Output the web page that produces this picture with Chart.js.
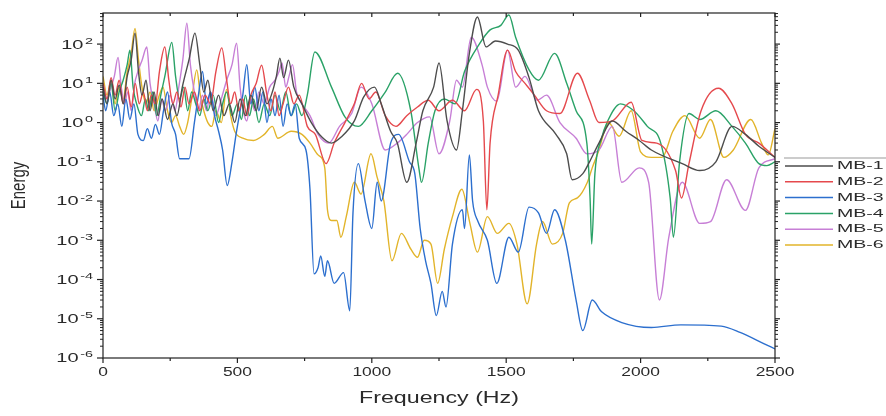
<!DOCTYPE html>
<html>
<head>
<meta charset="utf-8">
<script src="https://cdn.jsdelivr.net/npm/chart.js@4.4.1/dist/chart.umd.min.js"></script>
<style>
html, body { margin: 0; padding: 0; background: #fff; }
</style>
</head>
<body>
<canvas id="grafica" width="886" height="416"></canvas>
<script>
// Datos (frecuencia en Hz, energia)
const etiquetas = ['MB-1', 'MB-2', 'MB-3', 'MB-4', 'MB-5', 'MB-6'];

const mb1Freq = [0,15,30,45,60,75,90,105,119,132,145,160,175,190,205,220,240,260,275,295,320,342,360,375,390,410,430,450,470,490,510,530,550,570,590,610,630,645,658,672,690,710,740,775,815,850,885,935,970,1010,1035,1070,1095,1130,1165,1190,1230,1250,1280,1315,1337,1363,1393,1425,1460,1505,1545,1585,1620,1685,1725,1745,1785,1810,1845,1895,1945,1995,2040,2155,2220,2280,2340,2390,2440,2500];
const mb1Energy = [8,3,12,4,9,3,15,40,190,20,5,12,2,6,1.5,4,1.2,3,1.5,8,40,190,30,6,12,2,5,1.5,3,1,4,1.5,5,2,8,3,6,15,44,14,39,8,3,1,0.42,0.3,0.42,1.1,4.5,8,3,0.6,0.3,0.03,0.3,2,8,33,1.1,0.2,2,58,490,85,120,100,70,14,2,0.5,0.16,0.035,0.05,0.1,0.3,1.1,0.6,0.35,0.2,0.09,0.06,0.1,0.8,0.5,0.25,0.13];

const mb2Freq = [0,15,30,45,60,75,90,105,120,135,150,165,180,195,210,230,245,260,275,290,305,320,340,360,380,400,420,442,460,475,490,505,520,535,550,570,590,610,625,640,655,670,690,710,730,760,790,830,860,900,935,962,990,1015,1050,1090,1130,1170,1210,1250,1300,1345,1390,1415,1428,1440,1470,1505,1535,1570,1605,1650,1700,1765,1810,1845,1895,1965,2005,2060,2130,2152,2180,2225,2290,2340,2390,2440,2500];
const mb2Energy = [10,4,14,5,12,3,8,2.5,10,3,6,2,5,3,20,84,12,3,6,2.5,8,3,6,2,5,3,20,80,12,3,6,2,4,1.5,5,10,29,5,2,6,1.5,3,8,3,5,0.8,0.5,0.09,0.3,1,3,10,4,6,1.5,0.8,1.5,2.5,3.7,2,3.7,2,7,1.1,0.006,0.3,5,70,20,10,5,2,1.7,18,3.7,1,1.1,3.3,0.35,0.3,0.06,0.012,0.09,2,7.5,3,0.5,0.3,0.13];

const mb3Freq = [0,10,25,40,55,70,85,100,115,130,150,165,180,195,210,225,240,255,270,285,320,340,355,370,385,400,415,430,445,462,480,495,510,520,535,550,565,580,595,610,625,640,655,670,685,700,715,730,755,770,785,800,810,825,835,860,895,918,930,950,975,1000,1020,1035,1070,1100,1140,1160,1180,1200,1220,1240,1262,1276,1300,1337,1345,1363,1375,1395,1430,1465,1510,1545,1585,1620,1650,1680,1720,1760,1785,1820,1855,1930,2040,2150,2300,2370,2460,2500];
const mb3Energy = [5,2,6,1.5,3,0.8,4,1.2,3,0.5,0.35,0.7,0.4,0.9,0.5,2,6,1,0.5,0.12,0.12,1,5,20,3,6,1.5,0.6,0.2,0.025,0.1,0.5,2,5,30,3,8,2,6,1,4,1.5,5,0.8,3,1.5,3,0.4,0.2,0.02,1.4e-4,2e-4,4e-4,1.2e-4,3e-4,8e-5,1.5e-4,1.6e-5,5e-3,0.09,0.01,2e-3,0.03,0.01,0.3,0.5,0.1,0.05,2e-3,3e-4,8e-5,1.2e-5,5e-5,2e-5,8e-4,6e-3,2e-3,0.15,0.01,3e-3,1e-3,8e-5,1.2e-3,5e-4,7e-3,5e-3,1.5e-3,6e-3,1e-3,3e-5,5e-6,3e-5,1.5e-5,8e-6,6e-6,7e-6,6.5e-6,4.5e-6,2.3e-6,1.7e-6];

const mb4Freq = [0,15,30,45,60,75,90,100,112,125,143,158,170,185,200,215,230,256,270,285,300,315,330,345,360,375,390,410,430,445,460,480,500,515,530,545,560,580,600,620,640,660,680,700,720,740,760,788,850,900,950,1000,1050,1096,1145,1175,1185,1210,1235,1270,1310,1345,1400,1440,1480,1510,1535,1585,1620,1680,1725,1760,1800,1812,1818,1830,1855,1875,1925,1975,2025,2075,2110,2122,2145,2180,2220,2280,2340,2390,2440,2470,2500];
const mb4Energy = [6,3,10,2,6,12,30,70,8,3,1.5,4,2,6,1.5,5,15,110,15,4,8,2,6,3,1.5,4,2,5,1,3,6,1.5,3,1.2,5,1.5,4,1,3,1.5,5,2,6,1.5,3,1.5,5,63,8,1.4,0.8,2,6,18,2,0.07,0.03,0.3,2,4,3,20,100,230,300,550,150,22,12,58,10,2,0.3,0.012,8e-4,0.05,0.4,1,3,2,0.8,0.3,0.012,1.2e-3,0.1,1.7,1.2,2,0.8,0.3,0.09,0.08,0.1];

const mb5Freq = [0,15,30,42,56,68,80,92,105,118,130,146,163,175,190,204,218,232,250,268,282,297,312,325,340,355,370,385,400,420,440,460,480,497,510,522,535,550,565,580,600,620,640,655,666,680,692,705,720,740,770,800,840,880,925,960,1000,1050,1095,1130,1170,1215,1250,1290,1315,1337,1370,1410,1430,1465,1505,1535,1570,1615,1650,1700,1760,1800,1845,1895,1930,1995,2030,2070,2105,2155,2220,2260,2320,2390,2440,2500];
const mb5Energy = [10,4,8,15,46,8,3,6,2,10,20,40,84,10,3,1.1,4,2,5,2,8,40,340,30,6,2,5,2,6,1.5,4,12,30,105,8,2,1.1,4,2,6,3,8,12,20,33,8,15,30,6,3,1.5,0.5,0.3,0.8,1.7,8,3,0.2,0.3,0.5,1,1.4,0.16,1.1,12,8,150,30,8,3.5,70,8,15,3.7,5,1,0.4,0.16,0.2,0.8,0.03,0.07,0.03,3e-5,1.2e-3,0.03,2.7e-3,3e-3,0.035,5.8e-3,0.07,0.12];

const mb6Freq = [0,15,30,45,60,75,90,105,119,132,145,160,175,190,205,223,240,255,270,285,300,315,330,349,362,375,390,405,420,440,460,475,490,520,560,600,630,650,700,740,770,800,825,835,850,870,885,905,935,960,997,1020,1045,1075,1110,1145,1170,1195,1220,1245,1270,1300,1335,1365,1393,1430,1467,1510,1540,1578,1613,1635,1672,1710,1735,1765,1802,1820,1845,1865,1880,1920,1965,2000,2040,2080,2120,2165,2220,2260,2310,2345,2410,2450,2475,2500];
const mb6Energy = [15,5,12,3,8,4,20,60,250,40,8,3,6,2,4,8,2,1,1.5,0.8,0.5,1,4,22,5,2,1,0.8,2,1,7,1.5,0.6,0.4,0.35,0.5,0.8,0.4,0.6,0.5,0.3,0.15,0.07,6e-3,3.2e-3,3.2e-3,1.2e-3,4e-3,0.03,0.015,0.16,0.04,0.01,3e-4,1.5e-3,6e-4,3.7e-4,1e-3,8e-4,8e-5,6e-4,4e-3,0.02,2.7e-3,5e-4,4e-3,1.5e-3,2.7e-3,8e-4,2.4e-5,8e-4,3e-3,8e-4,1.5e-3,9e-3,0.012,0.03,0.07,0.2,0.6,1,0.45,2,0.18,0.13,0.13,0.6,1.5,0.4,1.2,0.13,0.2,1.2,0.3,0.15,0.7];

const seriesFreq = [mb1Freq, mb2Freq, mb3Freq, mb4Freq, mb5Freq, mb6Freq];
const seriesEnergy = [mb1Energy, mb2Energy, mb3Energy, mb4Energy, mb5Energy, mb6Energy];

// Ejes
const ticksX = [0, 500, 1000, 1500, 2000, 2500];
const exponentesY = [-6, -5, -4, -3, -2, -1, 0, 1, 2];

const colores = ['#4d4d4d', '#e5494d', '#2c6fce', '#2aa267', '#c77fd6', '#e2b42a'];

function escribir(ctx, str, px, py, size, align, estirar) {
    ctx.save();
    ctx.font = size + 'px "Liberation Sans", Arial, sans-serif';
    ctx.translate(px, py);
    ctx.scale(estirar, 1);
    ctx.textAlign = align;
    ctx.textBaseline = 'middle';
    ctx.fillText(str, 0, 0);
    ctx.restore();
}

function linea(ctx, x1, y1, x2, y2) {
    ctx.beginPath();
    ctx.moveTo(x1, y1);
    ctx.lineTo(x2, y2);
    ctx.stroke();
}

// Marco, marcas y textos al estilo Origin
const ejesOrigin = {
    id: 'ejesOrigin',
    afterDraw(chart) {
        const ctx = chart.ctx;
        const a = chart.chartArea;
        const x = chart.scales.x;
        const y = chart.scales.y;
        ctx.save();
        ctx.strokeStyle = '#222';
        ctx.fillStyle = '#2a2a2a';
        ctx.lineWidth = 1.2;
        ctx.strokeRect(a.left, a.top, a.right - a.left, a.bottom - a.top);

        // marcas eje X
        for (let i = 0; i < ticksX.length; i++) {
            const px = x.getPixelForValue(ticksX[i]);
            linea(ctx, px, a.bottom, px, a.bottom + 5);
            linea(ctx, px, a.top, px, a.top + 4);
            escribir(ctx, String(ticksX[i]), px, 373, 12, 'center', 1.45);
            if (i < ticksX.length - 1) {
                const pm = x.getPixelForValue((ticksX[i] + ticksX[i + 1]) / 2);
                linea(ctx, pm, a.bottom, pm, a.bottom + 3);
                linea(ctx, pm, a.top, pm, a.top + 3);
            }
        }

        // marcas eje Y (log)
        ctx.lineWidth = 1;
        for (let e = exponentesY[0]; e <= exponentesY[exponentesY.length - 1]; e++) {
            for (let m = 2; m <= 9; m++) {
                const v = m * Math.pow(10, e);
                if (v > y.max) break;
                const py = y.getPixelForValue(v);
                linea(ctx, a.left - 3, py, a.left, py);
                linea(ctx, a.right, py, a.right + 3, py);
            }
        }
        ctx.lineWidth = 1.2;
        exponentesY.forEach(e => {
            const py = y.getPixelForValue(Math.pow(10, e));
            linea(ctx, a.left - 6, py, a.left, py);
            linea(ctx, a.right, py, a.right + 5, py);
            // etiqueta 10^e
            ctx.save();
            ctx.font = '12.5px "Liberation Sans", Arial, sans-serif';
            const w1 = ctx.measureText('10').width;
            ctx.font = '9px "Liberation Sans", Arial, sans-serif';
            const w2 = ctx.measureText(String(e)).width;
            ctx.restore();
            const est = 1.6;
            const izq = a.left - 10 - (w1 + w2 + 1) * est;
            escribir(ctx, '10', izq, py + 1, 12.5, 'left', est);
            escribir(ctx, String(e), izq + (w1 + 1) * est, py - 3, 9, 'left', est);
        });

        // titulos
        escribir(ctx, 'Frequency (Hz)', (a.left + a.right) / 2, 399, 16, 'center', 1.45);
        ctx.save();
        ctx.translate(19, (a.top + a.bottom) / 2);
        ctx.scale(1.35, 1);
        ctx.rotate(-Math.PI / 2);
        ctx.font = '15px "Liberation Sans", Arial, sans-serif';
        ctx.textAlign = 'center';
        ctx.textBaseline = 'middle';
        ctx.fillText('Energy', 0, 0);
        ctx.restore();

        // leyenda
        ctx.strokeStyle = '#999';
        ctx.lineWidth = 1;
        linea(ctx, 784, 158, 886, 158);
        etiquetas.forEach((lab, i) => {
            const py = 166 + i * 15.8;
            ctx.strokeStyle = colores[i];
            ctx.lineWidth = 1.5;
            linea(ctx, 785, py, 833, py);
            escribir(ctx, lab, 837, py, 11.5, 'left', 1.7);
        });
        ctx.restore();
    }
};

const grafica = document.getElementById('grafica').getContext('2d');
new Chart(grafica, {
    type: 'line',
    data: {
        datasets: etiquetas.map((lab, i) => ({
            label: lab,
            data: seriesFreq[i].map((f, j) => ({ x: f, y: seriesEnergy[i][j] })),
            borderColor: colores[i],
            borderWidth: 1.4,
            pointRadius: 0,
            fill: false,
            cubicInterpolationMode: 'monotone'
        }))
    },
    options: {
        responsive: false,
        animation: false,
        devicePixelRatio: 1,
        layout: { padding: { left: 103, right: 111, top: 13, bottom: 58 } },
        scales: {
            x: { type: 'linear', min: 0, max: 2500, display: false },
            y: { type: 'logarithmic', min: 1e-6, max: 620, display: false }
        },
        plugins: {
            legend: { display: false },
            tooltip: { enabled: false }
        }
    },
    plugins: [ejesOrigin]
});
</script>
</body>
</html>
